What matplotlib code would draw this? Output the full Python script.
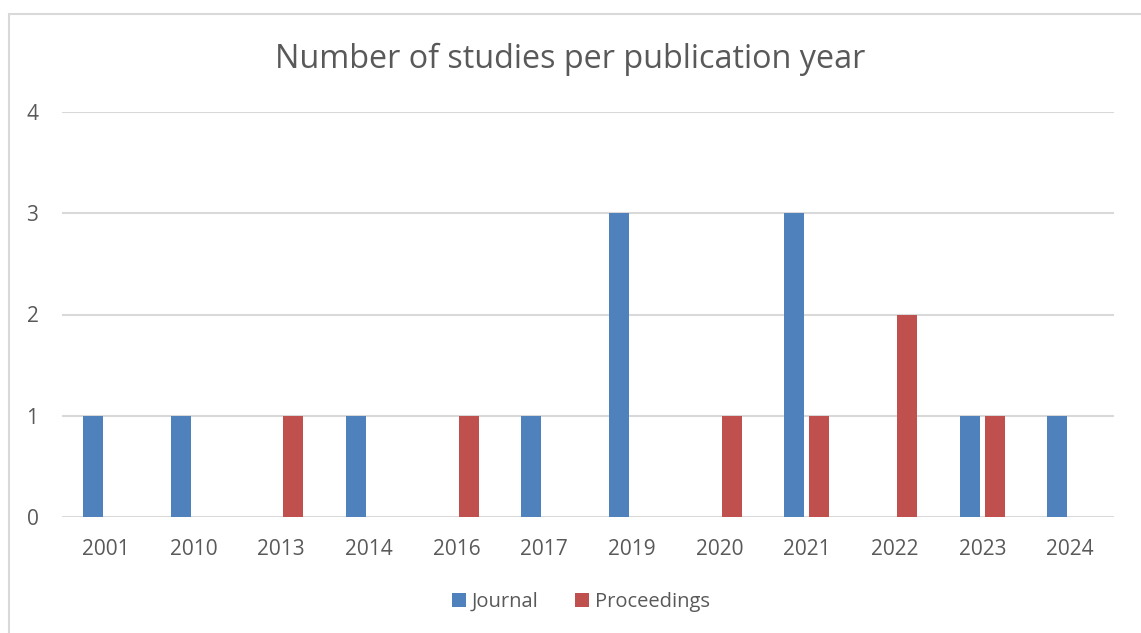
import numpy as np
import matplotlib.pyplot as plt
from matplotlib.patches import Rectangle

years = ["2001", "2010", "2013", "2014", "2016", "2017",
         "2019", "2020", "2021", "2022", "2023", "2024"]
journal = [1, 1, 0, 1, 0, 1, 3, 0, 3, 0, 1, 1]
proceedings = [0, 0, 1, 0, 1, 0, 0, 1, 1, 2, 1, 0]


def main():
    plt.rcParams["font.family"] = ["Open Sans", "DejaVu Sans"]
    text_color = "#595959"
    grid_color = "#D9D9D9"

    fig = plt.figure(figsize=(11.41, 6.33), dpi=100)
    # chart area border, like the Excel frame
    fig.patches.append(Rectangle((9 / 1141, -0.1), 1.2, (633 - 14) / 633 + 0.1,
                                 transform=fig.transFigure, fill=False,
                                 edgecolor=grid_color, linewidth=1.5))

    ax = fig.add_axes([62 / 1141, 116 / 633, (1114 - 62) / 1141, (517 - 112) / 633])
    x = np.arange(len(years))
    w = 0.228
    ax.bar(x - 0.145, journal, w, color="#4F81BD", label="Journal", zorder=3)
    ax.bar(x + 0.14, proceedings, w, color="#C0504D", label="Proceedings", zorder=3)

    ax.set_xlim(-0.5, len(years) - 0.5)
    ax.set_ylim(0, 4)
    ax.set_yticks(range(5))
    ax.set_xticks(x)
    ax.set_xticklabels(years)
    ax.yaxis.grid(True, color=grid_color, linewidth=1.5, zorder=0)
    ax.set_axisbelow(True)
    for s in ax.spines.values():
        s.set_visible(False)
    ax.tick_params(axis="both", length=0, labelsize=15, colors=text_color)
    ax.tick_params(axis="x", pad=16)
    ax.tick_params(axis="y", pad=17)

    fig.text(0.5, 1 - 59 / 633, "Number of studies per publication year",
             ha="center", va="center", fontsize=23.3, color=text_color)

    leg = fig.legend(loc="center", bbox_to_anchor=(581 / 1141, 1 - 602 / 633),
                     ncol=2, frameon=False, fontsize=14.5, handlelength=0.7,
                     handleheight=0.7, handletextpad=0.3, columnspacing=1.8)
    for t in leg.get_texts():
        t.set_color(text_color)

    fig.savefig("out.png", dpi=100)


if __name__ == "__main__":
    main()
